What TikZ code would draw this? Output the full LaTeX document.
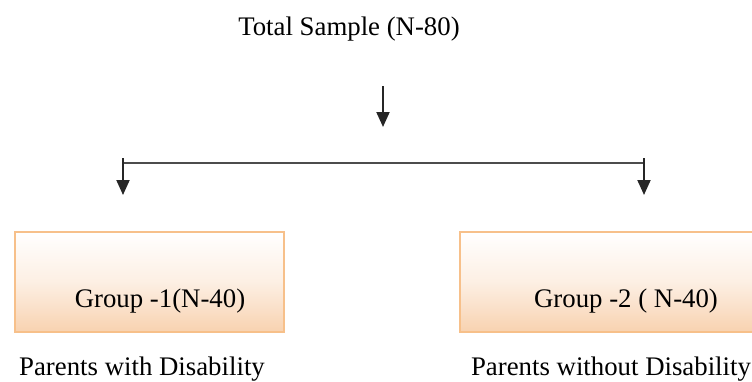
\documentclass[tikz,border=0pt]{standalone}
\usepackage{fontspec}
\setmainfont{Liberation Serif}
\usetikzlibrary{arrows.meta}
\definecolor{boxline}{HTML}{F7C08A}
\definecolor{boxfill}{HTML}{F8D2B0}
\begin{document}
\begin{tikzpicture}[x=1pt,y=-1pt,
  lbl/.style={font=\fontsize{26.8}{30}\selectfont, inner sep=0pt, anchor=base},
  grp/.style={draw=boxline, line width=2.2pt, top color=white, bottom color=boxfill, middle color=boxfill!35, shading angle=0},
  arr/.style={-{Triangle[length=15pt,width=13pt]}, line width=2pt, black!85},
  conn/.style={line width=1.6pt, black!70}]
\useasboundingbox (0,0) rectangle (752,381);
\node[lbl] (title) at (349,35) {Total Sample (N-80)};
\coordinate (a1s) at (383,86);
\coordinate (a1e) at (383,127);
\draw[arr] (a1s) -- (a1e);
\coordinate (hl) at (123,163);
\coordinate (hr) at (644,163);
\coordinate (hlt) at (123,158);
\coordinate (hrt) at (644,158);
\coordinate (tl) at (123,195);
\coordinate (tr) at (644,195);
\draw[conn] (hl) -- (hr);
\draw[arr] (hlt) -- (tl);
\draw[arr] (hrt) -- (tr);
\path[grp] (15,232) rectangle (284,332);
\path[grp] (460,232) rectangle (760,332);
\node[lbl] (g1) at (160,307) {Group -1(N-40)};
\node[lbl] (g2) at (626,307) {Group -2 ( N-40)};
\node[lbl] (p1) at (142,375) {Parents with Disability};
\node[lbl] (p2) at (611,375) {Parents without Disability};
\end{tikzpicture}
\end{document}
